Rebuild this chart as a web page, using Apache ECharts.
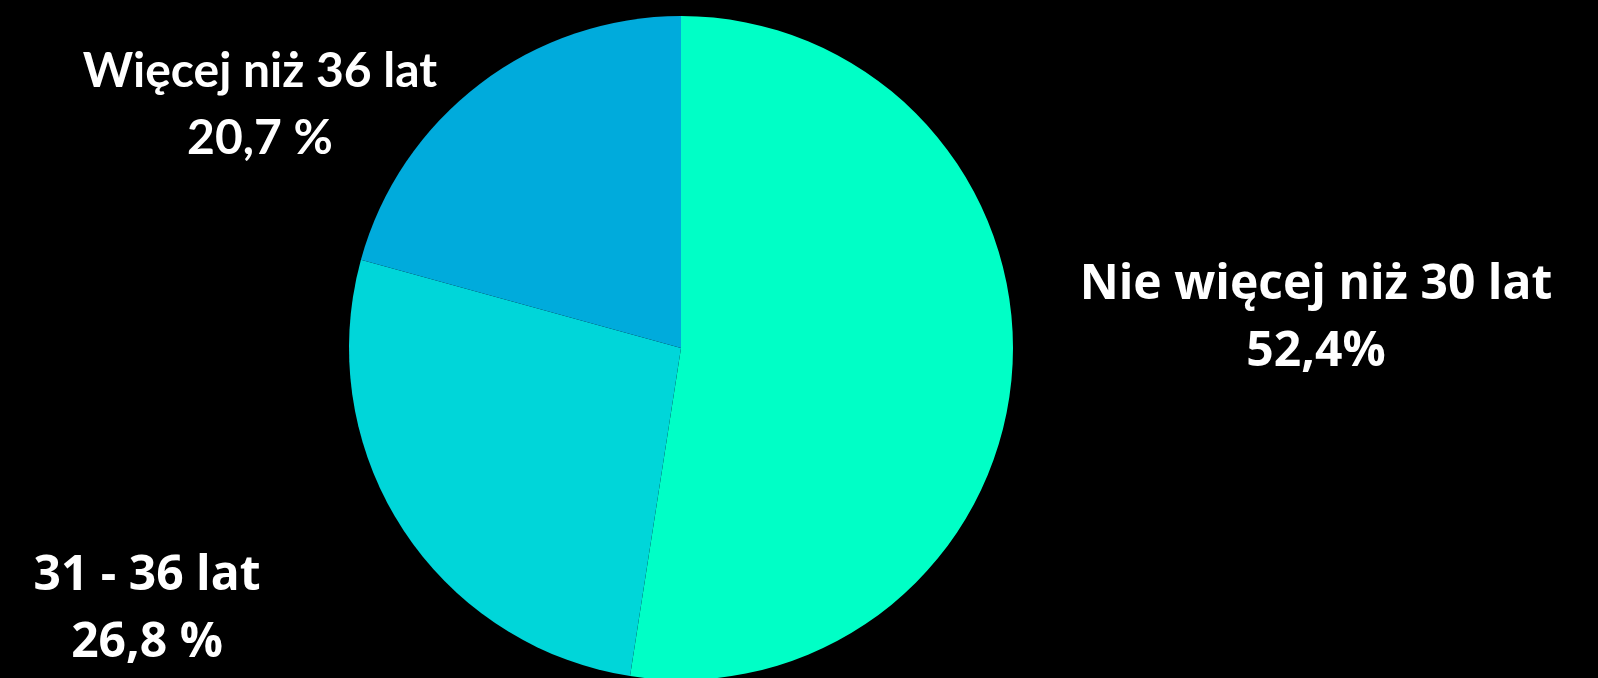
<!DOCTYPE html>
<html>
<head>
<meta charset="utf-8">
<script src="https://cdn.jsdelivr.net/npm/echarts@6/dist/echarts.min.js"></script>
<style>
html,body{margin:0;padding:0;background:#000;}
#chart{width:1598px;height:678px;}
</style>
</head>
<body>
<div id="chart"></div>
<script>
var categories = ['Nie więcej niż 30 lat', '31 - 36 lat', 'Więcej niż 36 lat'];
var values = [52.4, 26.8, 20.7];
var valueLabels = ['52,4%', '26,8 %', '20,7 %'];

var colors = ['#00FFC6', '#00D6D9', '#00ABDC'];
var fonts = ['Open Sans', 'Open Sans', 'Lato'];
var labelPos = [[1316, 319], [147, 610], [260, 105]];

var chart = echarts.init(document.getElementById('chart'));
chart.setOption({
  backgroundColor: '#000000',
  animation: false,
  series: [{
    type: 'pie',
    center: [681, 348],
    radius: 332,
    startAngle: 90,
    clockwise: true,
    label: {
      show: true,
      color: '#ffffff',
      fontWeight: 'bold',
      fontSize: 48,
      lineHeight: 67,
      align: 'center',
      formatter: function (p) { return p.name + '\n' + valueLabels[p.dataIndex]; }
    },
    labelLine: { show: false },
    labelLayout: function (p) {
      var pos = labelPos[p.dataIndex];
      return { x: pos[0], y: pos[1], align: 'center', verticalAlign: 'middle' };
    },
    itemStyle: { borderWidth: 0 },
    emphasis: { disabled: true },
    data: categories.map(function (c, i) {
      return {
        name: c,
        value: values[i],
        itemStyle: { color: colors[i] },
        label: { fontFamily: fonts[i] }
      };
    })
  }]
});
</script>
</body>
</html>
